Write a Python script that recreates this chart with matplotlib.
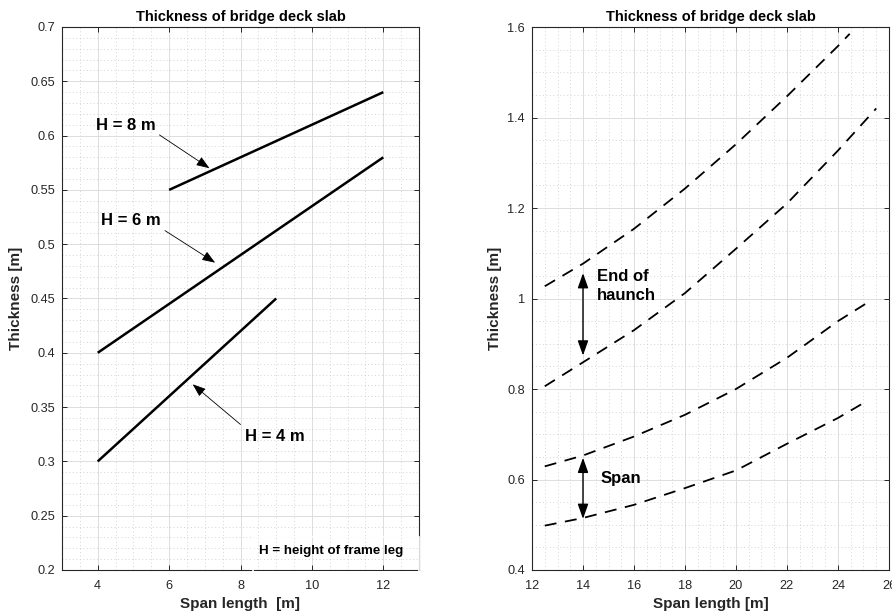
import matplotlib
matplotlib.use('Agg')
import matplotlib.pyplot as plt
from matplotlib.ticker import MultipleLocator, FuncFormatter
from matplotlib.patches import Rectangle

plt.rcParams['font.family'] = ['Liberation Sans', 'DejaVu Sans']
plt.rcParams['lines.scale_dashes'] = False

# ---------------- Left chart data ----------------
span_h8 = [6, 12]
thick_h8 = [0.55, 0.64]
span_h6 = [4, 12]
thick_h6 = [0.40, 0.58]
span_h4 = [4, 9]
thick_h4 = [0.30, 0.45]
left_xticks = [4, 6, 8, 10, 12]
left_yticks = [0.2, 0.25, 0.3, 0.35, 0.4, 0.45, 0.5, 0.55, 0.6, 0.65, 0.7]

# ---------------- Right chart data ----------------
span_haunch_upper = [12.5, 14, 16, 18, 20, 22, 24, 24.46]
thick_haunch_upper = [1.027, 1.077, 1.154, 1.243, 1.341, 1.447, 1.558, 1.585]
span_haunch_lower = [12.5, 14, 16, 18, 20, 22, 24, 25.5]
thick_haunch_lower = [0.806, 0.859, 0.93, 1.012, 1.11, 1.21, 1.327, 1.42]
span_span_upper = [12.5, 14, 16, 18, 20, 22, 24, 25.3]
thick_span_upper = [0.629, 0.653, 0.695, 0.743, 0.80, 0.869, 0.95, 0.996]
span_span_lower = [12.5, 14, 16, 18, 20, 22, 24, 25.0]
thick_span_lower = [0.498, 0.515, 0.544, 0.581, 0.620, 0.679, 0.736, 0.769]
right_xticks = [12, 14, 16, 18, 20, 22, 24, 26]
right_yticks = [0.4, 0.6, 0.8, 1.0, 1.2, 1.4, 1.6]

TXT = '#262626'
fig = plt.figure(figsize=(8.92, 6.15), dpi=100)
W, H = 892, 615
axL = fig.add_axes([62 / W, 45 / H, 357 / W, 543 / H])
axR = fig.add_axes([532 / W, 45 / H, 357 / W, 543 / H])

fmt = FuncFormatter(lambda v, p: f'{v:g}')


def style(ax, xminor, yminor):
    ax.set_axisbelow(True)
    ax.xaxis.set_minor_locator(MultipleLocator(xminor))
    ax.yaxis.set_minor_locator(MultipleLocator(yminor))
    ax.grid(which='major', color='#dddddd', lw=0.7, ls='-')
    ax.grid(which='minor', color='#c4c4c4', lw=0.5, ls=(0, (0.7, 1.8)))
    ax.tick_params(which='major', direction='in', length=3.5, width=0.7,
                   top=True, right=True, colors=TXT, labelsize=9.2)
    ax.tick_params(axis='x', which='major', pad=7)
    ax.tick_params(axis='y', which='major', pad=5)
    ax.tick_params(which='minor', length=0)
    ax.xaxis.set_major_formatter(fmt)
    ax.yaxis.set_major_formatter(fmt)
    for s in ax.spines.values():
        s.set_color(TXT)
        s.set_linewidth(0.8)


# ---------------- Left axes ----------------
lkw = dict(color='black', lw=1.8, solid_capstyle='butt')
axL.plot(span_h8, thick_h8, **lkw)
axL.plot(span_h6, thick_h6, **lkw)
axL.plot(span_h4, thick_h4, **lkw)
axL.set_xlim(3, 13)
axL.set_ylim(0.2, 0.7)
axL.set_xticks(left_xticks)
axL.set_yticks(left_yticks)
style(axL, 0.5, 0.01)
axL.set_title('Thickness of bridge deck slab', fontsize=10.5, fontweight='bold', pad=4)
axL.set_xlabel('Span length  [m]', fontsize=11, fontweight='bold', color=TXT, labelpad=4)
axL.set_ylabel('Thickness [m]', fontsize=11, fontweight='bold', color=TXT, labelpad=5)

arr1 = dict(arrowstyle='-|>,head_length=0.8,head_width=0.3', color='black',
            lw=0.6, shrinkA=0, shrinkB=0)
axL.text(3.94, 0.6095, 'H = 8 m', fontsize=12, fontweight='bold', ha='left', va='center')
axL.annotate('', xy=(7.13, 0.570), xytext=(5.73, 0.6006), arrowprops=arr1)
axL.text(4.09, 0.5217, 'H = 6 m', fontsize=12, fontweight='bold', ha='left', va='center')
axL.annotate('', xy=(7.29, 0.483), xytext=(5.885, 0.5125), arrowprops=arr1)
axL.text(8.14, 0.323, 'H = 4 m', fontsize=12, fontweight='bold', ha='left', va='center')
axL.annotate('', xy=(6.66, 0.371), xytext=(8.0, 0.334), arrowprops=arr1)
axL.text(8.52, 0.2175, 'H = height of frame leg', fontsize=9.6, fontweight='bold',
         ha='left', va='center')
axL.add_patch(Rectangle((0.535, -0.004), 0.466, 0.065, transform=axL.transAxes,
                        fill=False, edgecolor='white', lw=1.2, clip_on=False, zorder=5))

# ---------------- Right axes ----------------
dkw = dict(color='black', lw=1.3, dashes=(8.6, 6.2))
axR.plot(span_haunch_upper, thick_haunch_upper, **dkw)
axR.plot(span_haunch_lower, thick_haunch_lower, **dkw)
axR.plot(span_span_upper, thick_span_upper, **dkw)
axR.plot(span_span_lower, thick_span_lower, **dkw)
axR.set_xlim(12, 26)
axR.set_ylim(0.4, 1.6)
axR.set_xticks(right_xticks)
axR.set_yticks(right_yticks)
style(axR, 0.5, 0.05)
axR.set_title('Thickness of bridge deck slab', fontsize=10.5, fontweight='bold', pad=4)
axR.set_xlabel('Span length [m]', fontsize=11, fontweight='bold', color=TXT, labelpad=4)
axR.set_ylabel('Thickness [m]', fontsize=11, fontweight='bold', color=TXT, labelpad=4)

arr2 = dict(arrowstyle='<|-|>,head_length=0.9,head_width=0.32', color='black',
            lw=1.0, shrinkA=0, shrinkB=0)
axR.annotate('', xy=(14, 1.056), xytext=(14, 0.874), arrowprops=arr2)
axR.text(14.56, 1.028, 'End of\nhaunch', fontsize=12, fontweight='bold',
         ha='left', va='center', linespacing=1.35)
axR.annotate('', xy=(14, 0.648), xytext=(14, 0.513), arrowprops=arr2)
axR.text(14.67, 0.603, 'Span', fontsize=12, fontweight='bold', ha='left', va='center')

fig.savefig('out.png', dpi=100, facecolor='white')
